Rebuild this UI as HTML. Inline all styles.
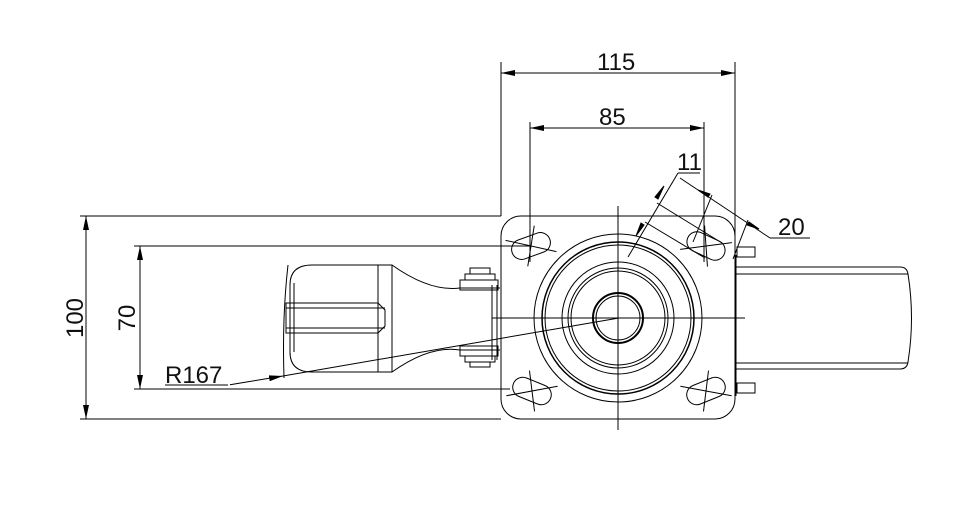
<!DOCTYPE html>
<html><head><style>
html,body{margin:0;padding:0;background:#fff;}
svg{display:block;}
text{font-family:"Liberation Sans",sans-serif;font-size:24px;fill:#111;}
</style></head><body>
<svg width="962" height="511" viewBox="0 0 962 511" xmlns="http://www.w3.org/2000/svg">
<defs>
<marker id="a" viewBox="0 0 14 6" refX="14" refY="3" markerWidth="14" markerHeight="6" markerUnits="userSpaceOnUse" orient="auto-start-reverse"><path d="M0,0 L14,3 L0,6z" fill="#000"/></marker>
</defs>
<g stroke="#000" stroke-width="1" fill="none">
<line x1="501" y1="62" x2="501" y2="216"/>
<line x1="735" y1="62" x2="735" y2="265"/>
<line x1="501" y1="73" x2="735" y2="73" marker-start="url(#a)" marker-end="url(#a)"/>
<line x1="530" y1="122" x2="530" y2="262"/>
<line x1="704" y1="122" x2="704" y2="262"/>
<line x1="530" y1="128" x2="704" y2="128" marker-start="url(#a)" marker-end="url(#a)"/>
<line x1="80" y1="216" x2="501" y2="216"/>
<line x1="80" y1="419" x2="501" y2="419"/>
<line x1="86" y1="216" x2="86" y2="419" marker-start="url(#a)" marker-end="url(#a)"/>
<line x1="134" y1="246" x2="530" y2="246"/>
<line x1="134" y1="389" x2="510" y2="389"/>
<line x1="140" y1="246" x2="140" y2="389" marker-start="url(#a)" marker-end="url(#a)"/>
<line x1="165" y1="385" x2="228" y2="385"/>
<line x1="230" y1="384.7" x2="283" y2="376" marker-end="url(#a)"/>
<line x1="283" y1="376" x2="619" y2="318"/>
<rect x="501" y="216" width="234" height="203" rx="20"/>
<circle cx="618" cy="318" r="84"/>
<circle cx="618" cy="318" r="76" stroke-width="1.5"/>
<circle cx="618" cy="318" r="73"/>
<circle cx="618" cy="318" r="56"/>
<circle cx="618" cy="318" r="50"/>
<circle cx="618" cy="318" r="47"/>
<circle cx="618" cy="318" r="25" stroke-width="2"/>
<circle cx="618" cy="318" r="22"/>
<line x1="618" y1="206" x2="618" y2="430"/>
<line x1="492" y1="318" x2="745" y2="318"/>
<g transform="translate(531,246) rotate(-20)"><rect x="-20" y="-10" width="40" height="20" rx="10"/><line x1="-22" y1="-14" x2="22" y2="14"/><line x1="-10" y1="18" x2="10" y2="-18"/></g>
<g transform="translate(706,246) rotate(25)"><rect x="-20" y="-10" width="40" height="20" rx="10"/><line x1="-22" y1="14" x2="22" y2="-14"/><line x1="-10" y1="-18" x2="10" y2="18"/></g>
<g transform="translate(532,391) rotate(22)"><rect x="-20" y="-10" width="40" height="20" rx="10"/><line x1="-22" y1="14" x2="22" y2="-14"/><line x1="-10" y1="-18" x2="10" y2="18"/></g>
<g transform="translate(706,391) rotate(-22)"><rect x="-20" y="-10" width="40" height="20" rx="10"/><line x1="-22" y1="-14" x2="22" y2="14"/><line x1="-10" y1="18" x2="10" y2="-18"/></g>
<line x1="678" y1="173" x2="700" y2="173"/>
<line x1="678" y1="173" x2="628" y2="257"/>
<path d="M664,186 l-6,13 l-3,-2z M636,236 l5,-13 l3,2z" fill="#000"/>
<line x1="657" y1="203" x2="722" y2="243"/>
<line x1="645" y1="222" x2="705" y2="258"/>
<line x1="680" y1="178" x2="770" y2="238"/>
<line x1="770" y1="238" x2="810" y2="238"/>
<path d="M698,190 l12,4 l-2,3z M759,229 l-12,-4 l2,-3z" fill="#000"/>
<line x1="712" y1="195" x2="693" y2="242"/>
<line x1="748" y1="220" x2="733" y2="259"/>
<rect x="737" y="247" width="18" height="10"/>
<rect x="737" y="383" width="18" height="10"/>
<line x1="736" y1="255" x2="736" y2="396"/>
<path d="M736,267 L900,267 Q907,267 908,274 Q915,318 908,362 Q907,369 900,369 L736,369"/>
<line x1="736" y1="274" x2="908" y2="274"/>
<line x1="736" y1="363" x2="908" y2="363"/>
<path d="M288,265 Q282,318 284,378"/>
<path d="M312,265 Q290,265 290,285 L290,352 Q290,372 312,372 L392,372 Q430,345 460,350 L500,350"/>
<path d="M312,265 L392,265 Q430,292 460,288 L500,288"/>
<path d="M294,283 L294,352"/>
<line x1="378" y1="265" x2="378" y2="372"/>
<line x1="392" y1="265" x2="392" y2="372"/>
<path d="M286,303 L378,303 L385,310 L385,326 L378,333 L286,333z"/>
<line x1="286" y1="308" x2="385" y2="308"/>
<line x1="286" y1="328" x2="385" y2="328"/>
<line x1="290" y1="303" x2="290" y2="333"/>
<rect x="460" y="280" width="38" height="10"/>
<rect x="465" y="274" width="30" height="6"/>
<rect x="470" y="268" width="20" height="6"/>
<rect x="460" y="346" width="38" height="10"/>
<rect x="465" y="356" width="30" height="6"/>
<rect x="470" y="362" width="20" height="5"/>
<line x1="492" y1="285" x2="492" y2="360"/>
<line x1="497" y1="285" x2="497" y2="360"/>
</g>
<text x="597" y="70">115</text>
<text x="599" y="125">85</text>
<text x="677" y="170">11</text>
<text x="778" y="235">20</text>
<text x="165" y="383">R167</text>
<text transform="translate(83,318) rotate(-90)" text-anchor="middle">100</text>
<text transform="translate(135,318) rotate(-90)" text-anchor="middle">70</text>
</svg>
</body></html>
